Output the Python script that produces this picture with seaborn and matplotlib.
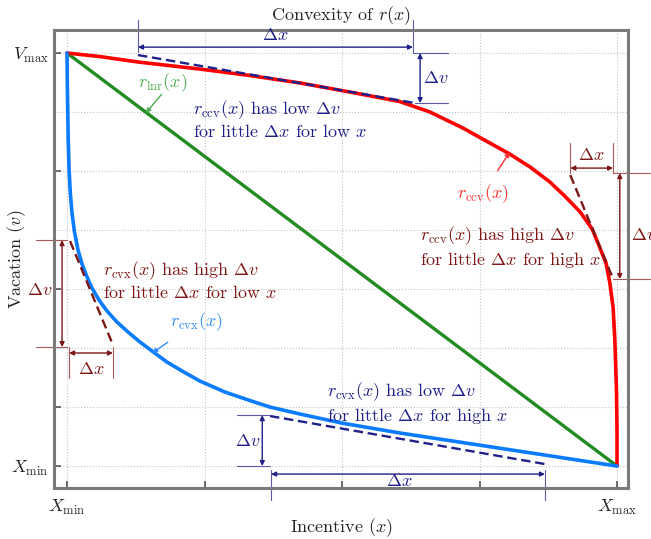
import numpy as np
import pandas as pd
import seaborn as sns
import matplotlib.pyplot as plt

# curve values (incentive normalised 0..1, vacation with V_max = 3.5, X_min = 0)
x_lnr = [0.0, 1.0]
v_lnr = [3.5, 0.0]

x_ccv = [0.0, 0.06, 0.129, 0.242, 0.333, 0.424, 0.515, 0.605, 0.66, 0.72,
         0.769, 0.805, 0.842, 0.878, 0.905, 0.933, 0.955, 0.969, 0.98, 0.987,
         0.993, 0.996, 0.999, 1.0, 1.0]
v_ccv = [3.5, 3.47, 3.424, 3.364, 3.309, 3.246, 3.169, 3.089, 3.0, 2.864,
         2.737, 2.644, 2.534, 2.407, 2.288, 2.153, 2.008, 1.847, 1.72, 1.551,
         1.339, 1.068, 0.644, 0.305, 0.0]

x_cvx = [0.0, 0.0005, 0.0013, 0.0022, 0.0036, 0.006, 0.0091, 0.0136, 0.02, 0.0273,
         0.0364, 0.0455, 0.0582, 0.0727, 0.0909, 0.1109, 0.1327, 0.1545, 0.1818, 0.2109,
         0.2418, 0.2873, 0.3327, 0.3691, 0.4236, 0.5, 0.6055, 0.7491, 0.8691, 1.0]
v_cvx = [3.5, 3.271, 3.017, 2.763, 2.525, 2.314, 2.144, 1.983, 1.831, 1.712,
         1.602, 1.508, 1.407, 1.314, 1.22, 1.136, 1.051, 0.975, 0.881, 0.801,
         0.72, 0.627, 0.555, 0.5, 0.441, 0.364, 0.28, 0.178, 0.093, 0.0]

x_ticks = [0, 0.25, 0.5, 0.75, 1.0]
x_labels = [r"$X_{\rm min}$", "", "", "", r"$X_{\rm max}$"]
y_ticks = [0, 0.5, 1.5, 2.5, 3.5]
y_labels = [r"$X_{\rm min}$", "", "", "", r"$V_{\rm max}$"]
y_grid = [1.0, 2.0, 3.0]

# tangent segments
tan_top = ([0.129, 0.633], [3.483, 3.076])
tan_right = ([0.915, 0.993], [2.466, 1.585])
tan_left = ([0.0055, 0.0836], [1.907, 1.025])
tan_bottom = ([0.369, 0.869], [0.424, 0.017])

sns.set_theme(style="white")
plt.rcParams['font.family'] = ['cmr10', 'DejaVu Serif']
plt.rcParams['mathtext.fontset'] = 'cm'
plt.rcParams['axes.formatter.use_mathtext'] = True

navy = "#20208a"
navy_l = "#5a5aa8"
dred = "#7d1616"
dred_l = "#a85a5a"
FS = 13

fig, ax = plt.subplots(figsize=(6.51, 5.39), dpi=100)
fig.subplots_adjust(left=0.083, right=0.9647, bottom=0.0946, top=0.9443)

sns.lineplot(x=x_lnr, y=v_lnr, color="#228b22", lw=2.4, sort=False, estimator=None, ax=ax)
sns.lineplot(x=x_ccv, y=v_ccv, color="#ff0000", lw=2.6, sort=False, estimator=None, ax=ax)
sns.lineplot(x=x_cvx, y=v_cvx, color="#0a7cff", lw=2.6, sort=False, estimator=None, ax=ax)

ax.set_xlim(-0.0236, 1.02)
ax.set_ylim(-0.186, 3.695)
ax.set_xticks(x_ticks)
ax.set_xticklabels(x_labels, fontsize=FS)
ax.set_yticks(y_ticks)
ax.set_yticklabels(y_labels, fontsize=FS)
ax.set_yticks(y_grid, minor=True)
ax.tick_params(axis='both', which='major', direction='in', length=5, width=1.3,
               color="#606060", left=True, bottom=True, pad=4)
ax.tick_params(axis='x', pad=7)
ax.tick_params(axis='y', which='minor', length=0)
ax.grid(True, which='both', ls=':', lw=0.8, color="#c4c4c4")
for s in ax.spines.values():
    s.set_color("#7a7a7a")
    s.set_linewidth(2.2)

ax.set_title(r"Convexity of $r(x)$", fontsize=FS, pad=7)
ax.set_xlabel(r"Incentive $(x)$", fontsize=FS)
ax.set_ylabel(r"Vacation $(v)$", fontsize=FS)
ax.xaxis.set_label_coords(0.5, -0.062)
ax.yaxis.set_label_coords(-0.045, 0.5)


def seg(xs, ys, c, lw=0.8, **kw):
    ax.plot(xs, ys, color=c, lw=lw, clip_on=False, **kw)


def dim(p0, p1, c):
    ax.annotate("", xy=p1, xytext=p0,
                arrowprops=dict(arrowstyle='<|-|>', color=c, lw=1.0,
                                shrinkA=0, shrinkB=0, mutation_scale=7),
                annotation_clip=False)


dash = dict(ls=(0, (4, 2)), lw=1.7)

# top: concave curve, low x
seg(*tan_top, navy, **dash)
seg([0.129, 0.129], [3.78, 3.51], navy_l)
seg([0.629, 0.629], [3.78, 3.51], navy_l)
dim((0.129, 3.55), (0.629, 3.55), navy)
ax.text(0.378, 3.65, r"$\Delta x$", color=navy, fontsize=FS, ha='center', va='center')
seg([0.629, 0.693], [3.5, 3.5], navy_l)
seg([0.633, 0.693], [3.076, 3.076], navy_l)
dim((0.642, 3.5), (0.642, 3.076), navy)
ax.text(0.648, 3.29, r"$\Delta v$", color=navy, fontsize=FS, ha='left', va='center')

# right: concave curve, high x
seg(*tan_right, dred, **dash)
seg([0.915, 0.915], [2.737, 2.483], dred_l)
seg([0.993, 0.993], [2.737, 2.483], dred_l)
dim((0.915, 2.525), (0.993, 2.525), dred)
ax.text(0.954, 2.64, r"$\Delta x$", color=dred, fontsize=FS, ha='center', va='center')
seg([0.993, 1.06], [2.483, 2.483], dred_l)
seg([0.993, 1.06], [1.585, 1.585], dred_l)
dim((1.005, 2.483), (1.005, 1.585), dred)
ax.text(1.026, 1.96, r"$\Delta v$", color=dred, fontsize=FS, ha='left', va='center')

# left: convex curve, low x
seg(*tan_left, dred, **dash)
seg([-0.056, 0.0], [1.915, 1.915], dred_l)
seg([-0.056, 0.0], [1.008, 1.008], dred_l)
dim((-0.009, 1.915), (-0.009, 1.008), dred)
ax.text(-0.05, 1.49, r"$\Delta v$", color=dred, fontsize=FS, ha='center', va='center')
seg([0.0036, 0.0036], [1.008, 0.746], dred_l)
seg([0.0836, 0.0836], [1.008, 0.746], dred_l)
dim((0.0036, 0.958), (0.0836, 0.958), dred)
ax.text(0.044, 0.82, r"$\Delta x$", color=dred, fontsize=FS, ha='center', va='center')

# bottom: convex curve, high x
seg(*tan_bottom, navy, **dash)
seg([0.309, 0.369], [0.432, 0.432], navy_l)
seg([0.309, 0.369], [0.0, 0.0], navy_l)
dim((0.355, 0.432), (0.355, 0.0), navy)
ax.text(0.329, 0.21, r"$\Delta v$", color=navy, fontsize=FS, ha='center', va='center')
seg([0.371, 0.371], [-0.034, -0.288], navy_l)
seg([0.869, 0.869], [-0.034, -0.288], navy_l)
dim((0.371, -0.068), (0.869, -0.068), navy)
ax.text(0.605, -0.13, r"$\Delta x$", color=navy, fontsize=FS, ha='center', va='center')

# curve labels with arrows
ax.annotate("", xy=(0.143, 2.99), xytext=(0.172, 3.15),
            arrowprops=dict(arrowstyle='-|>', color="#4caf50", lw=1.0,
                            shrinkA=0, shrinkB=0, mutation_scale=7))
ax.text(0.173, 3.25, r"$r_{\rm lnr}(x)$", color="#4caf50", fontsize=FS,
        ha='center', va='center')
ax.annotate(r"$r_{\rm ccv}(x)$", xy=(0.805, 2.661), xytext=(0.756, 2.31),
            color="#ff3030", fontsize=FS, ha='center', va='center',
            arrowprops=dict(arrowstyle='-|>', color="#ff3030", lw=1.0,
                            shrinkA=7, shrinkB=0, mutation_scale=7))
ax.annotate(r"$r_{\rm cvx}(x)$", xy=(0.155, 0.958), xytext=(0.236, 1.22),
            color="#2f8cff", fontsize=FS, ha='center', va='center',
            arrowprops=dict(arrowstyle='-|>', color="#2f8cff", lw=1.0,
                            shrinkA=7, shrinkB=0, mutation_scale=7))

ax.text(0.229, 2.94, "$r_{\\rm ccv}(x)$ has low $\\Delta v$\nfor little $\\Delta x$ for low $x$",
        color=navy, fontsize=FS, ha='left', va='center', linespacing=1.15)
ax.text(0.642, 1.856, "$r_{\\rm ccv}(x)$ has high $\\Delta v$\nfor little $\\Delta x$ for high $x$",
        color=dred, fontsize=FS, ha='left', va='center', linespacing=1.15)
ax.text(0.065, 1.576, "$r_{\\rm cvx}(x)$ has high $\\Delta v$\nfor little $\\Delta x$ for low $x$",
        color=dred, fontsize=FS, ha='left', va='center', linespacing=1.15)
ax.text(0.473, 0.534, "$r_{\\rm cvx}(x)$ has low $\\Delta v$\nfor little $\\Delta x$ for high $x$",
        color=navy, fontsize=FS, ha='left', va='center', linespacing=1.15)

fig.savefig("out.png", dpi=100)
